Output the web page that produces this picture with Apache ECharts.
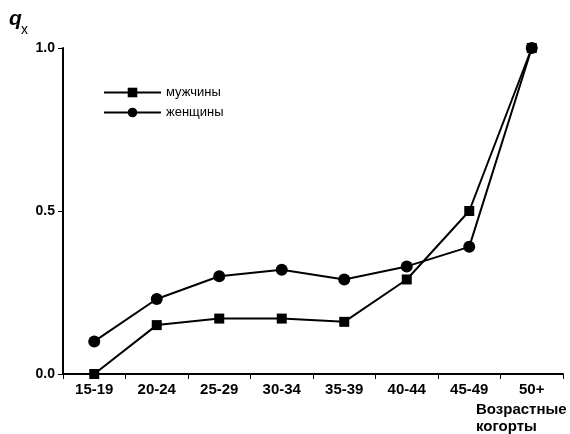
<!DOCTYPE html>
<html>
<head>
<meta charset="utf-8">
<script src="https://cdn.jsdelivr.net/npm/echarts@6/dist/echarts.min.js"></script>
<style>
  html, body { margin: 0; padding: 0; background: #fff; }
  #chart { width: 570px; height: 434px; }
</style>
</head>
<body>
<div id="chart"></div>
<script>
// возрастные когорты
const categories = ['15-19', '20-24', '25-29', '30-34', '35-39', '40-44', '45-49', '50+'];
const men = [0.0, 0.15, 0.17, 0.17, 0.16, 0.29, 0.50, 1.0];
const women = [0.10, 0.23, 0.30, 0.32, 0.29, 0.33, 0.39, 1.0];
const yTicks = [0, 0.5, 1.0];

const font = 'Arial, "Liberation Sans", sans-serif';

const mychart = echarts.init(document.getElementById('chart'));
const option = {
    animation: false,
    backgroundColor: '#fff',
    grid: {
        left: 63,
        right: 7,
        top: 48,
        bottom: 60
    },
    legend: {
        orient: 'vertical',
        left: 98,
        top: 81,
        itemWidth: 57,
        itemHeight: 12,
        itemGap: 7,
        data: ['мужчины', 'женщины'],
        textStyle: {
            color: '#000',
            fontFamily: font,
            fontSize: 13
        }
    },
    xAxis: {
        type: 'category',
        data: categories,
        boundaryGap: true,
        axisLine: {
            show: true,
            lineStyle: { color: '#000', width: 2 }
        },
        axisTick: {
            show: true,
            length: 5,
            lineStyle: { color: '#000', width: 1 }
        },
        axisLabel: {
            color: '#000',
            fontFamily: font,
            fontWeight: 'bold',
            fontSize: 15,
            margin: 8
        },
        splitLine: { show: false }
    },
    yAxis: {
        type: 'value',
        min: yTicks[0],
        max: yTicks[yTicks.length - 1],
        interval: 0.5,
        axisLine: {
            show: true,
            lineStyle: { color: '#000', width: 2 }
        },
        axisTick: {
            show: true,
            length: 5,
            lineStyle: { color: '#000', width: 1 }
        },
        axisLabel: {
            color: '#000',
            fontFamily: font,
            fontWeight: 'bold',
            fontSize: 14,
            margin: 8,
            formatter: v => v.toFixed(1)
        },
        splitLine: { show: false }
    },
    graphic: [
        {
            type: 'text',
            left: 9,
            top: 9,
            style: {
                text: 'q',
                fill: '#000',
                font: 'italic bold 21px ' + font
            }
        },
        {
            type: 'text',
            left: 21,
            top: 23,
            style: {
                text: 'x',
                fill: '#000',
                font: '14px ' + font
            }
        },
        {
            type: 'text',
            left: 476,
            top: 401,
            style: {
                text: 'Возрастные\nкогорты',
                fill: '#000',
                font: 'bold 15px ' + font,
                lineHeight: 17,
                align: 'left'
            }
        }
    ],
    series: [
        {
            name: 'мужчины',
            type: 'line',
            symbol: 'rect',
            symbolSize: 10,
            showAllSymbol: true,
            itemStyle: { color: '#000' },
            lineStyle: { color: '#000', width: 2 },
            data: men
        },
        {
            name: 'женщины',
            type: 'line',
            symbol: 'circle',
            symbolSize: 12,
            showAllSymbol: true,
            itemStyle: { color: '#000' },
            lineStyle: { color: '#000', width: 2 },
            data: women
        }
    ]
};
mychart.setOption(option);
window.addEventListener('resize', () => {
    mychart.resize();
});
</script>
</body>
</html>
